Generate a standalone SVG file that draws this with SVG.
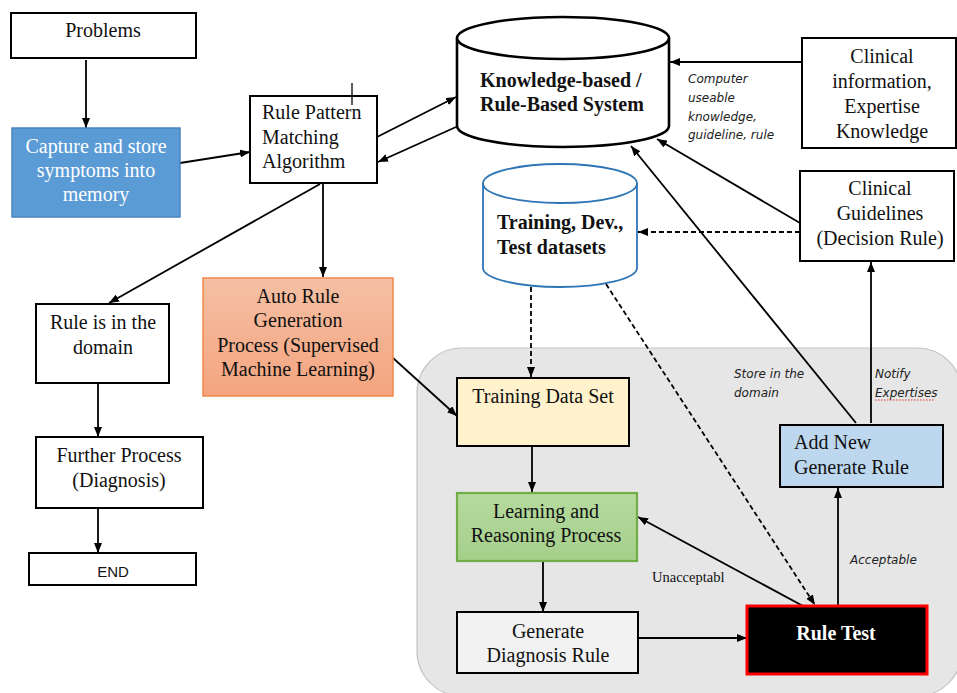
<svg xmlns="http://www.w3.org/2000/svg" width="957" height="693" viewBox="0 0 957 693">
  <defs>
    <marker id="arrow" viewBox="0 0 10 8" refX="10" refY="4" markerWidth="10" markerHeight="8" markerUnits="userSpaceOnUse" orient="auto">
      <path d="M0,0 L10,4 L0,8 z" fill="#000"/>
    </marker>
    <linearGradient id="orangeFill" x1="0" y1="0" x2="0" y2="1">
      <stop offset="0" stop-color="#f5c0a4"/>
      <stop offset="1" stop-color="#f4a47f"/>
    </linearGradient>
    <linearGradient id="greenFill" x1="0" y1="0" x2="0" y2="1">
      <stop offset="0" stop-color="#b5da9e"/>
      <stop offset="1" stop-color="#a6cf8b"/>
    </linearGradient>
    <style>
      .box { stroke: #000; stroke-width: 2; }
      .t { font-family: "Liberation Serif", "Times New Roman", serif; font-size: 20px; fill: #111; }
      .c { text-anchor: middle; }
      .b { font-weight: bold; }
      .lbl { font-family: "DejaVu Sans", sans-serif; font-style: italic; font-size: 12px; fill: #222; }
      .conn line { stroke: #000; stroke-width: 1.8; fill: none; }
      .conn .dash { stroke-dasharray: 5 3; }
    </style>
  </defs>

  <rect width="957" height="693" fill="#fff"/>

  <!-- shaded learning loop region -->
  <rect id="learning-region" x="417" y="348" width="545" height="348" rx="45" ry="45" fill="#e6e6e6" stroke="#c4c4c4" stroke-width="1.2"/>

  <!-- connectors -->
  <g id="connectors" class="conn">
    <line x1="86" y1="60" x2="86" y2="128" marker-end="url(#arrow)"/>
    <line x1="180" y1="163" x2="250" y2="152" marker-end="url(#arrow)"/>
    <line x1="377" y1="137" x2="456" y2="97" marker-end="url(#arrow)"/>
    <line x1="456" y1="127" x2="378" y2="162" marker-end="url(#arrow)"/>
    <line x1="323" y1="183" x2="323" y2="277" marker-end="url(#arrow)"/>
    <line x1="320" y1="184" x2="109" y2="303" marker-end="url(#arrow)"/>
    <line x1="98" y1="383" x2="98" y2="437" marker-end="url(#arrow)"/>
    <line x1="98" y1="508" x2="98" y2="553" marker-end="url(#arrow)"/>
    <line x1="393" y1="358" x2="457" y2="416" marker-end="url(#arrow)"/>
    <line x1="802" y1="62" x2="670" y2="62" marker-end="url(#arrow)"/>
    <line x1="800" y1="223" x2="657" y2="139" marker-end="url(#arrow)"/>
    <line class="dash" x1="800" y1="232" x2="638" y2="232" marker-end="url(#arrow)"/>
    <line x1="856" y1="423" x2="631" y2="146" marker-end="url(#arrow)"/>
    <line x1="871" y1="423" x2="871" y2="262" marker-end="url(#arrow)"/>
    <line class="dash" x1="531" y1="287" x2="531" y2="377" marker-end="url(#arrow)"/>
    <line class="dash" x1="606" y1="284" x2="815" y2="605" marker-end="url(#arrow)"/>
    <line x1="532" y1="446" x2="532" y2="492" marker-end="url(#arrow)"/>
    <line x1="543" y1="561" x2="543" y2="612" marker-end="url(#arrow)"/>
    <line x1="638" y1="638" x2="747" y2="638" marker-end="url(#arrow)"/>
    <line x1="803" y1="606" x2="638" y2="517" marker-end="url(#arrow)"/>
    <line x1="838" y1="606" x2="838" y2="488" marker-end="url(#arrow)"/>
  </g>

  <!-- connector labels -->
  <g id="labels">
    <text class="lbl" x="688" y="83">Computer</text>
    <text class="lbl" x="688" y="102">useable</text>
    <text class="lbl" x="688" y="121">knowledge,</text>
    <text class="lbl" x="688" y="139">guideline,  rule</text>
    <text class="lbl" x="734" y="378">Store in the</text>
    <text class="lbl" x="734" y="397">domain</text>
    <text class="lbl" x="875" y="378">Notify</text>
    <text class="lbl" x="875" y="397">Expertises</text>
    <line x1="875" y1="400" x2="934" y2="400" stroke="#e03030" stroke-width="1" stroke-dasharray="1.5 1.5"/>
    <text class="lbl" x="850" y="564">Acceptable</text>
    <text class="t" x="652" y="582" style="font-size:14.5px">Unacceptabl</text>
  </g>

  <g id="problems">
    <rect class="box" x="11" y="13" width="185" height="45" fill="#fff"/>
    <text class="t c" x="103" y="37">Problems</text>
  </g>

  <g id="capture">
    <rect x="12" y="128" width="168" height="89" fill="#5b9bd5" stroke="#4a86c0" stroke-width="1.5"/>
    <text class="t c" x="96" y="153" fill="#fff" style="fill:#fff">Capture and store</text>
    <text class="t c" x="96" y="177" style="fill:#fff">symptoms into</text>
    <text class="t c" x="96" y="201" style="fill:#fff">memory</text>
  </g>

  <g id="rule-pattern">
    <rect class="box" x="250" y="96" width="127" height="87" fill="#fff"/>
    <line x1="352" y1="83" x2="352" y2="105" stroke="#000" stroke-width="1.3"/>
    <text class="t" x="262" y="119">Rule Pattern</text>
    <text class="t" x="262" y="144">Matching</text>
    <text class="t" x="262" y="168">Algorithm</text>
  </g>

  <g id="knowledge-base">
    <path d="M457,38 L457,126 A106,21 0 0 0 669,126 L669,38" fill="#fff" stroke="#000" stroke-width="2.6"/>
    <ellipse cx="563" cy="38" rx="106" ry="21" fill="#fff" stroke="#000" stroke-width="2.6"/>
    <text class="t b" x="480" y="87">Knowledge-based /</text>
    <text class="t b" x="480" y="111">Rule-Based System</text>
  </g>

  <g id="clinical-info">
    <rect class="box" x="802" y="38" width="154" height="110" fill="#fff"/>
    <text class="t c" x="882" y="63">Clinical</text>
    <text class="t c" x="882" y="88">information,</text>
    <text class="t c" x="882" y="113">Expertise</text>
    <text class="t c" x="882" y="138">Knowledge</text>
  </g>

  <g id="clinical-guidelines">
    <rect class="box" x="800" y="171" width="154" height="90" fill="#fff"/>
    <text class="t c" x="880" y="195">Clinical</text>
    <text class="t c" x="880" y="220">Guidelines</text>
    <text class="t c" x="880" y="245">(Decision Rule)</text>
  </g>

  <g id="datasets">
    <path d="M483,183.5 L483,268 A77,19 0 0 0 637,268 L637,183.5" fill="#fff" stroke="#2e75b6" stroke-width="1.8"/>
    <ellipse cx="560" cy="183.5" rx="77" ry="19.5" fill="#fff" stroke="#2e75b6" stroke-width="1.8"/>
    <text class="t b" x="497" y="229">Training, Dev.,</text>
    <text class="t b" x="497" y="254">Test datasets</text>
  </g>

  <g id="rule-in-domain">
    <rect class="box" x="36" y="304" width="133" height="79" fill="#fff"/>
    <text class="t c" x="103" y="329">Rule is in the</text>
    <text class="t c" x="103" y="354">domain</text>
  </g>

  <g id="auto-rule">
    <rect x="203" y="278" width="190" height="118" fill="url(#orangeFill)" stroke="#f0894a" stroke-width="1.5"/>
    <text class="t c" x="298" y="303">Auto Rule</text>
    <text class="t c" x="298" y="327">Generation</text>
    <text class="t c" x="298" y="352">Process (Supervised</text>
    <text class="t c" x="298" y="376">Machine Learning)</text>
  </g>

  <g id="further-process">
    <rect class="box" x="36" y="437" width="167" height="71" fill="#fff"/>
    <text class="t c" x="119" y="462">Further Process</text>
    <text class="t c" x="119" y="487">(Diagnosis)</text>
  </g>

  <g id="end">
    <rect class="box" x="29" y="553" width="167" height="32" fill="#fff"/>
    <text x="113" y="577" text-anchor="middle" font-family="Liberation Sans, Arial, sans-serif" font-size="15" fill="#111">END</text>
  </g>

  <g id="training-data-set">
    <rect class="box" x="457" y="378" width="172" height="68" fill="#fff2cc"/>
    <text class="t c" x="543" y="403">Training Data Set</text>
  </g>

  <g id="learning">
    <rect x="457" y="493" width="180" height="68" fill="url(#greenFill)" stroke="#70ad47" stroke-width="2.2"/>
    <text class="t c" x="546" y="518">Learning and</text>
    <text class="t c" x="546" y="542">Reasoning Process</text>
  </g>

  <g id="generate-rule">
    <rect class="box" x="457" y="612" width="181" height="61" fill="#f2f2f2"/>
    <text class="t c" x="548" y="638">Generate</text>
    <text class="t c" x="548" y="662">Diagnosis Rule</text>
  </g>

  <g id="rule-test">
    <rect x="747" y="606" width="180" height="68" fill="#000" stroke="#ff0000" stroke-width="3"/>
    <text class="t b c" x="836" y="640" style="fill:#fff">Rule Test</text>
  </g>

  <g id="add-new-rule">
    <rect class="box" x="780" y="425" width="163" height="62" fill="#bdd7ee"/>
    <text class="t" x="794" y="449">Add New</text>
    <text class="t" x="794" y="474">Generate Rule</text>
  </g>
</svg>
